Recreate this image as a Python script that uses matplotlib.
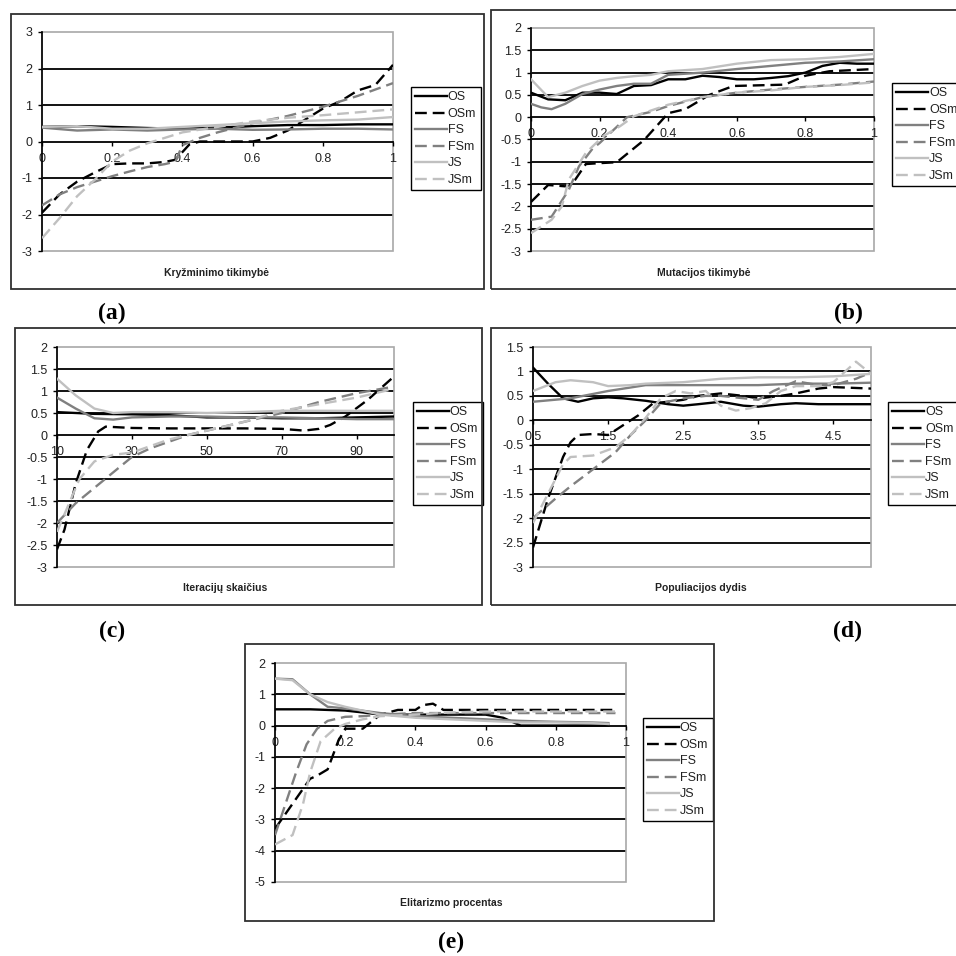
import matplotlib

matplotlib.use("Agg")
import matplotlib.pyplot as plt
from matplotlib.lines import Line2D
from matplotlib.patches import Rectangle

plt.rcParams["font.family"] = ["Liberation Sans", "DejaVu Sans"]

W = H = 956

NAMES = ["OS", "OSm", "FS", "FSm", "JS", "JSm"]
COLORS = {"OS": "black", "OSm": "black", "FS": "#808080",
          "FSm": "#808080", "JS": "#c0c0c0", "JSm": "#c0c0c0"}
DASHED = {"OSm", "FSm", "JSm"}

# (a) Kryzminimo tikimybe
A_OS = ([0, .1, .2, .3, .4, .5, .6, .7, .8, .9, 1],
        [.4, .42, .4, .37, .35, .38, .42, .45, .45, .47, .47])
A_OSm = ([0, .05, .1, .15, .2, .25, .3, .35, .38, .42, .45, .6, .65, .7, .75, .8, .85, .9, .95, 1],
         [-1.95, -1.45, -1.1, -.85, -.62, -.6, -.6, -.56, -.5, -.08, 0, 0, .1, .3, .6, .9, 1.1, 1.4, 1.55, 2.1])
A_FS = ([0, .1, .2, .3, .4, .5, .6, .7, .8, .9, 1],
        [.38, .3, .33, .3, .33, .35, .32, .33, .35, .35, .33])
A_FSm = ([0, .05, .1, .15, .2, .25, .3, .35, .38, .4, .45, .5, .6, .7, .8, .9, 1],
         [-1.75, -1.45, -1.25, -1.1, -.95, -.82, -.7, -.62, -.55, -.1, .1, .25, .5, .7, .95, 1.25, 1.6])
A_JS = ([0, .1, .2, .3, .4, .5, .6, .7, .8, .9, 1],
        [.4, .42, .35, .35, .4, .45, .5, .55, .58, .6, .67])
A_JSm = ([0, .05, .1, .15, .2, .25, .3, .35, .4, .5, .6, .7, .8, .9, 1],
         [-2.65, -2.1, -1.5, -1.05, -.55, -.25, -.05, .1, .25, .4, .55, .65, .72, .8, .88])

# (b) Mutacijos tikimybe
B_OS = ([0, .05, .1, .15, .2, .25, .3, .35, .4, .45, .5, .55, .6, .65, .7, .75, .8, .85, .9, .95, 1],
        [.55, .4, .38, .55, .55, .52, .7, .72, .85, .85, .93, .9, .85, .85, .88, .92, 1, 1.15, 1.22, 1.2, 1.2])
B_OSm = ([0, .05, .1, .12, .16, .2, .25, .33, .4, .45, .52, .59, .74, .8, .87, 1],
         [-1.9, -1.52, -1.55, -1.5, -1.05, -1.03, -1.01, -.51, .09, .18, .5, .7, .73, .93, 1.03, 1.08])
B_FS = ([0, .03, .06, .1, .15, .2, .25, .3, .35, .4, .5, .6, .7, .8, .9, 1],
        [.3, .22, .18, .3, .52, .62, .7, .75, .75, .95, 1, 1.08, 1.15, 1.22, 1.25, 1.3])
B_FSm = ([0, .06, .11, .14, .18, .2, .28, .35, .4, .45, .5, .6, .7, .8, .9, 1],
         [-2.3, -2.23, -1.63, -1.1, -.7, -.58, 0, .12, .25, .35, .45, .55, .62, .68, .73, .8])
B_JS = ([0, .05, .1, .15, .2, .25, .3, .35, .4, .5, .6, .7, .8, .9, 1],
        [.85, .45, .55, .7, .82, .88, .92, .95, 1.03, 1.08, 1.2, 1.28, 1.3, 1.35, 1.42])
B_JSm = ([0, .06, .09, .11, .16, .21, .26, .3, .35, .4, .5, .6, .7, .8, .9, 1],
         [-2.6, -2.3, -2, -1.4, -.8, -.43, -.2, .02, .15, .28, .45, .55, .6, .68, .72, .78])

# (c) Iteraciju skaicius
C_OS = ([10, 20, 30, 40, 50, 60, 70, 80, 90, 100],
        [.52, .48, .47, .45, .4, .4, .38, .38, .4, .42])
C_OSm = ([10, 12, 15, 18, 21, 23, 30, 40, 50, 60, 70, 76, 80, 83, 87, 93, 100],
         [-2.6, -2.15, -1.1, -.34, .08, .19, .16, .15, .15, .15, .14, .1, .14, .23, .42, .8, 1.33])
C_FS = ([10, 15, 20, 25, 30, 40, 50, 60, 70, 80, 90, 100],
        [.85, .6, .38, .35, .4, .42, .42, .4, .4, .38, .36, .36])
C_FSm = ([10, 15, 20, 25, 30, 35, 40, 45, 50, 60, 70, 80, 90, 100],
         [-2, -1.55, -1.2, -.85, -.5, -.3, -.15, 0, .1, .3, .5, .75, .95, 1.1])
C_JS = ([10, 15, 20, 25, 30, 40, 50, 60, 70, 80, 90, 100],
        [1.28, .9, .6, .5, .52, .52, .5, .52, .55, .55, .55, .55])
C_JSm = ([10, 13, 16, 20, 25, 30, 35, 40, 50, 60, 70, 80, 90, 100],
         [-2.2, -1.6, -1, -.6, -.45, -.4, -.25, -.1, .1, .3, .55, .7, .85, 1.05])

# (d) Populiacijos dydis
D_OS = ([.5, .7, .9, 1.1, 1.3, 1.5, 1.7, 2, 2.3, 2.5, 2.7, 3, 3.3, 3.5, 3.8, 4, 4.3, 4.5, 5],
        [1.08, .75, .45, .38, .45, .47, .45, .4, .33, .3, .33, .38, .3, .28, .33, .35, .33, .33, .33])
D_OSm = ([.5, .7, .9, 1, 1.1, 1.3, 1.5, 1.7, 1.9, 2.1, 2.3, 2.5, 2.7, 3, 3.3, 3.5, 3.8, 4, 4.3, 4.5, 5],
         [-2.6, -1.6, -.75, -.45, -.3, -.28, -.3, -.1, .1, .35, .38, .42, .5, .55, .5, .45, .5, .55, .65, .68, .65])
D_FS = ([.5, 1, 1.5, 2, 2.5, 3, 3.5, 4, 4.5, 5],
        [.38, .45, .6, .72, .72, .72, .72, .75, .75, .77])
D_FSm = ([.5, .8, 1, 1.3, 1.6, 1.8, 2, 2.2, 2.5, 2.8, 3, 3.5, 3.7, 4, 4.3, 4.5, 4.8, 5],
         [-2, -1.6, -1.35, -1, -.65, -.3, 0, .35, .45, .5, .5, .42, .6, .8, .72, .72, .85, .98])
D_JS = ([.5, .8, 1, 1.3, 1.5, 1.8, 2, 2.5, 3, 3.5, 4, 4.5, 5],
        [.6, .78, .82, .78, .7, .72, .75, .78, .85, .88, .88, .9, .95])
D_JSm = ([.5, .7, .9, 1, 1.3, 1.6, 1.8, 2, 2.2, 2.4, 2.6, 2.8, 3, 3.2, 3.4, 3.6, 3.8, 4, 4.3, 4.5, 4.8, 5],
         [-2.1, -1.5, -.9, -.75, -.72, -.55, -.3, .05, .45, .6, .55, .6, .3, .2, .25, .35, .6, .7, .7, .78, 1.2, .95])

# (e) Elitarizmo procentas
E_OS = ([0, .1, .2, .25, .3, .4, .5, .6, .65, .7, .75, .8, .9, .95],
        [.52, .52, .48, .42, .35, .35, .35, .35, .25, 0, 0, 0, 0, 0])
E_OSm = ([0, .05, .1, .12, .15, .18, .2, .25, .3, .35, .4, .42, .45, .48, .5, .6, .7, .8, .9, .97],
         [-3.3, -2.5, -1.7, -1.6, -1.4, -.5, -.1, -.1, .35, .5, .5, .65, .7, .5, .5, .5, .5, .5, .5, .5])
E_FS = ([0, .05, .1, .15, .2, .3, .4, .5, .6, .7, .8, .9, .95],
        [1.5, 1.48, 1, .6, .55, .4, .3, .25, .2, .15, .12, .1, .08])
E_FSm = ([0, .03, .06, .09, .12, .15, .2, .25, .3, .4, .5, .6, .7, .8, .9, .97],
         [-3.5, -2.5, -1.5, -.6, -.1, .15, .28, .3, .35, .4, .4, .4, .4, .4, .4, .4])
E_JS = ([0, .05, .1, .15, .2, .3, .4, .5, .6, .7, .8, .9, .95],
        [1.5, 1.45, 1, .75, .6, .35, .25, .2, .15, .1, .1, .08, .05])
E_JSm = ([0, .05, .08, .1, .13, .17, .2, .25, .3, .4, .5, .6, .7, .8, .9, .97],
         [-3.8, -3.5, -2.5, -1.5, -.5, -.1, .05, .2, .3, .35, .42, .45, .45, .45, .45, .45])

X_FRAC = [0, 0.2, 0.4, 0.6, 0.8, 1]
X_ITER = [10, 30, 50, 70, 90]
X_POP = [0.5, 1.5, 2.5, 3.5, 4.5]
Y_A = [-3, -2, -1, 0, 1, 2, 3]
Y_B = [-3, -2.5, -2, -1.5, -1, -0.5, 0, 0.5, 1, 1.5, 2]
Y_C = [-3, -2.5, -2, -1.5, -1, -0.5, 0, 0.5, 1, 1.5, 2]
Y_D = [-3, -2.5, -2, -1.5, -1, -0.5, 0, 0.5, 1, 1.5]
Y_E = [-5, -4, -3, -2, -1, 0, 1, 2]


def fx(px):
    return px / W


def fy(py):
    return 1 - py / H


def draw_panel(fig, plot_px, frame_px, legend_px, xlabel_px, tag_px, tag, xlabel,
               xlim, xticks, yticks, series):
    l, t, r, b = plot_px
    ax = fig.add_axes([fx(l), fy(b), (r - l) / W, (b - t) / H])
    fl, ft, fr, fb = frame_px
    fig.add_artist(Rectangle((fx(fl), fy(fb)), (fr - fl) / W, (fb - ft) / H,
                             transform=fig.transFigure, fill=False,
                             edgecolor="#303030", lw=1.3))

    for v in yticks[1:-1]:
        if v != 0:
            ax.axhline(v, color="black", lw=1.3, zorder=1)
    ax.add_patch(Rectangle((0, 0), 1, 1, transform=ax.transAxes, fill=False,
                           edgecolor="#a8a8a8", lw=1.2, zorder=1, clip_on=False))

    handles = []
    for name, (xs, ys) in zip(NAMES, series):
        ls = (0, (5, 2.5)) if name in DASHED else "-"
        ax.plot(xs, ys, color=COLORS[name], ls=ls, lw=1.7, zorder=3)
        handles.append(Line2D([], [], color=COLORS[name], ls=ls, lw=1.7))

    ax.set_xlim(*xlim)
    ax.set_ylim(yticks[0], yticks[-1])
    ax.set_xticks(xticks)
    ax.set_xticklabels([f"{v:g}" for v in xticks])
    ax.set_yticks(yticks)
    ax.set_yticklabels([f"{v:g}" for v in yticks])
    ax.spines["bottom"].set_position(("data", 0))
    ax.spines["bottom"].set_color("black")
    ax.spines["bottom"].set_linewidth(1.3)
    ax.spines["bottom"].set_zorder(2)
    ax.spines["left"].set_color("black")
    ax.spines["left"].set_linewidth(1.2)
    ax.spines["top"].set_visible(False)
    ax.spines["right"].set_visible(False)
    ax.tick_params(axis="x", direction="out", length=3, width=1, pad=5,
                   labelsize=9, labelcolor="#222222")
    ax.tick_params(axis="y", direction="out", length=3, width=1, pad=4,
                   labelsize=9, labelcolor="#222222")
    for lab in ax.get_xticklabels():
        lab.set_zorder(0)

    leg = ax.legend(handles, NAMES, loc="upper left",
                    bbox_to_anchor=(fx(legend_px[0]), fy(legend_px[1])),
                    bbox_transform=fig.transFigure, borderaxespad=0,
                    fancybox=False, framealpha=1, edgecolor="black",
                    fontsize=9, handlelength=2.5, handletextpad=0.1,
                    labelspacing=0.36, borderpad=0.35)
    leg.get_frame().set_linewidth(1.0)
    for txt in leg.get_texts():
        txt.set_color("#222222")

    fig.text(fx(xlabel_px[0]), fy(xlabel_px[1]), xlabel, ha="center", va="center",
             fontsize=7.5, fontweight="bold", color="#222222")
    fig.text(fx(tag_px[0]), fy(tag_px[1]), tag, ha="center", va="center",
             fontsize=17, fontweight="bold", family="Liberation Serif")
    return ax


fig = plt.figure(figsize=(9.56, 9.56), dpi=100)

draw_panel(fig, (42, 32, 393, 251), (11, 14, 484, 289), (411, 87), (217, 273),
           (112, 313), "(a)", "Kryžminimo tikimybė", (0, 1), X_FRAC, Y_A,
           [A_OS, A_OSm, A_FS, A_FSm, A_JS, A_JSm])
draw_panel(fig, (531, 28, 874, 251), (491, 10, 990, 289), (892, 83), (704, 273),
           (848, 313), "(b)", "Mutacijos tikimybė", (0, 1), X_FRAC, Y_B,
           [B_OS, B_OSm, B_FS, B_FSm, B_JS, B_JSm])
draw_panel(fig, (57, 347, 394, 567), (15, 328, 482, 605), (413, 402), (225, 588),
           (112, 631), "(c)", "Iteracijų skaičius", (10, 100), X_ITER, Y_C,
           [C_OS, C_OSm, C_FS, C_FSm, C_JS, C_JSm])
draw_panel(fig, (533, 347, 871, 567), (491, 328, 990, 605), (888, 402), (701, 588),
           (848, 631), "(d)", "Populiacijos dydis", (0.5, 5), X_POP, Y_D,
           [D_OS, D_OSm, D_FS, D_FSm, D_JS, D_JSm])
draw_panel(fig, (275, 663, 626, 882), (245, 644, 714, 921), (643, 718), (451, 903),
           (451, 942), "(e)", "Elitarizmo procentas", (0, 1), X_FRAC, Y_E,
           [E_OS, E_OSm, E_FS, E_FSm, E_JS, E_JSm])

fig.savefig("out.png", dpi=100)
plt.close(fig)
